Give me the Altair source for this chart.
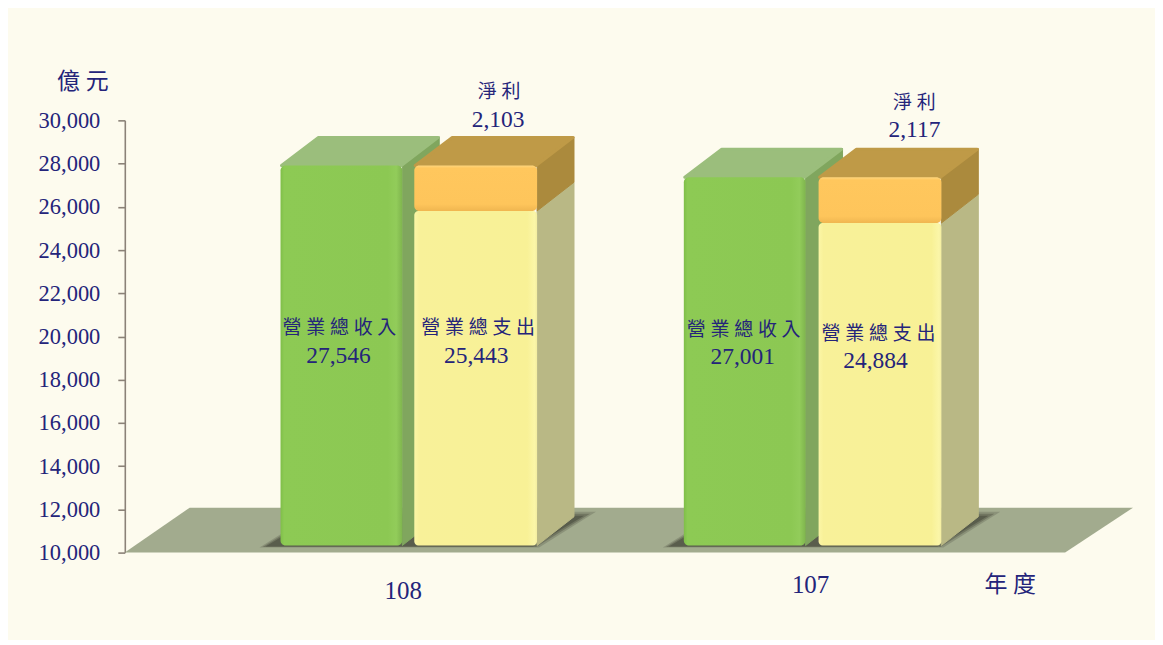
import altair as alt

# ---- values
years = ["108", "107"]
revenue = [27546, 27001]
expense = [25443, 24884]
profit = [2103, 2117]
y_ticks = [10000, 12000, 14000, 16000, 18000, 20000, 22000, 24000, 26000, 28000, 30000]

# ---- layout (x axis is in layout units, y axis in 億元)
W, H = 1010, 433
BASE = 10000
LIFT_BASE = 330       # foot of the bars sits a little above the floor edge
LIFT = 365            # front plane of the bars
DX, DY = 37, 1330     # depth of the 3D boxes
GROUP_LEFT = [156, 560]
GREEN_W = 122
YELLOW_OFF = [134, 135]
YELLOW_W = 123

NAVY = "#24247a"
SERIF = "Liberation Serif"
CJK = "Liberation Serif, Noto Sans CJK TC"

AX = alt.Axis(
    values=y_ticks, format=",.0f", grid=False, domainColor="#8b8278", domainWidth=1.6,
    tickColor="#8b8278", tickWidth=1.6, tickSize=7, labelPadding=18,
    labelFont=SERIF, labelFontSize=22.5, labelColor=NAVY,
)
xs = alt.Scale(domain=[0, W], range=[0, W])
ys = alt.Scale(domain=[10000, 30000], range=[H, 0])
X = alt.X("x:Q", scale=xs, axis=None, title=None)
Y = alt.Y("y:Q", scale=ys, axis=AX, title=None)


def grad(stops, vertical=False):
    return alt.Gradient(
        gradient="linear",
        x1=0, y1=0,
        x2=0 if vertical else 1, y2=1 if vertical else 0,
        stops=[alt.GradientStop(color=c, offset=o) for o, c in stops],
    )


def side(x0, lo, hi, color):
    vals = [
        {"x": x0, "y": hi, "y2": lo},
        {"x": x0 + DX, "y": hi + DY, "y2": lo + DY},
    ]
    return alt.Chart(alt.Data(values=vals)).mark_area(
        orient="vertical", color=color, stroke=color, strokeWidth=1, strokeJoin="round"
    ).encode(x=X, y=Y, y2="y2:Q")


def slab(xl, xr, y0, dx, dy, color, opacity=1.0, sw=0, dxr=None):
    vals = [
        {"y": y0, "x": xl, "x2": xr},
        {"y": y0 + dy, "x": xl + dx, "x2": xr + (dx if dxr is None else dxr)},
    ]
    kw = dict(stroke=color, strokeWidth=sw, strokeJoin="round") if sw else {}
    return alt.Chart(alt.Data(values=vals)).mark_area(
        orient="horizontal", color=color, opacity=opacity, **kw
    ).encode(x=X, x2="x2:Q", y=Y)


def front(xl, xr, lo, hi, fill, radius=5):
    vals = [{"x": xl, "x2": xr, "y": lo, "y2": hi}]
    return alt.Chart(alt.Data(values=vals)).mark_bar(
        color=fill, cornerRadius=radius
    ).encode(x=X, x2="x2:Q", y=Y, y2="y2:Q")


def texts(rows, size, font):
    return alt.Chart(alt.Data(values=rows)).mark_text(
        font=font, fontSize=size, color=NAVY, align="center", baseline="middle"
    ).encode(x=X, y=Y, text="t:N")


GREEN = grad([(0, "#7fbe49"), (0.03, "#8dca54"), (0.88, "#8cc853"), (0.95, "#92cc5a"), (1, "#7fb54e")])
YELLOW = grad([(0, "#fbf6a6"), (0.04, "#f8f199"), (0.92, "#f8f196"), (0.98, "#fbf6a8"), (1, "#f3eda0")])
ORANGE = grad([(0, "#ffd67c"), (0.06, "#ffc75d"), (0.85, "#fec55b"), (1, "#f0b650")], vertical=True)

layers = []

# floor
layers.append(slab(0, 942, BASE, 65, 2079, "#a2ab8e", dxr=68))

# soft shadows under the boxes
for i, left in enumerate(GROUP_LEFT):
    for inset, op in [(0, 0.22), (3, 0.32), (6, 0.42)]:
        layers.append(slab(left - 21 + inset, left + 259 - inset + YELLOW_OFF[i] - 134,
                           BASE + 231 + inset * 8, 57 - inset, 1663 - inset * 40,
                           "#3a3b30", opacity=op))

# the boxes
for i, left in enumerate(GROUP_LEFT):
    g0, g1 = left, left + GREEN_W
    y0, y1 = left + YELLOW_OFF[i], left + YELLOW_OFF[i] + YELLOW_W
    lo = BASE + LIFT_BASE
    rev = revenue[i] + LIFT
    exp = expense[i] + LIFT
    top = exp + profit[i]

    layers.append(side(g1, lo, rev, "#80a65e"))
    layers.append(slab(g0 + 1, g1 - 1, rev, DX, DY - 30, "#9bbe7c", sw=3))
    layers.append(front(g0, g1, lo, rev, GREEN))

    layers.append(side(y1, lo, exp, "#b9b885"))
    layers.append(front(y0, y1, lo, exp, YELLOW, radius=4))
    layers.append(side(y1, exp, top, "#ab8a3d"))
    layers.append(slab(y0 + 1, y1 - 1, top, DX, DY - 30, "#bf9a47", sw=3))
    layers.append(front(y0, y1, exp, top, ORANGE, radius=5))

# labels inside and above the boxes
layers.append(texts([
    {"x": 215, "y": 20390, "t": "營 業 總 收 入"},
    {"x": 354, "y": 20390, "t": "營 業 總 支 出"},
    {"x": 620, "y": 20300, "t": "營 業 總 收 入"},
    {"x": 755, "y": 20120, "t": "營 業 總 支 出"},
    {"x": 375, "y": 31320, "t": "淨 利"},
    {"x": 791, "y": 30810, "t": "淨 利"},
], 19, CJK))
layers.append(texts([
    {"x": -42, "y": 31790, "t": "億 元"},
    {"x": 887, "y": 8500, "t": "年 度"},
], 23, CJK))
layers.append(texts([
    {"x": 214, "y": 19100, "t": f"{revenue[0]:,}"},
    {"x": 352, "y": 19100, "t": f"{expense[0]:,}"},
    {"x": 619, "y": 19030, "t": f"{revenue[1]:,}"},
    {"x": 752, "y": 18880, "t": f"{expense[1]:,}"},
    {"x": 374, "y": 30000, "t": f"{profit[0]:,}"},
    {"x": 791, "y": 29540, "t": f"{profit[1]:,}"},
], 23.5, SERIF))
layers.append(texts([
    {"x": 279, "y": 8200, "t": years[0]},
    {"x": 687, "y": 8520, "t": years[1]},
], 25, SERIF))

chart = alt.layer(*layers).properties(
    width=W,
    height=H,
    background="#fdfbee",
    autosize=alt.AutoSizeParams(type="none"),
    padding={"left": 117, "top": 112, "right": 22, "bottom": 87},
).configure_view(stroke=None)

chart.save("out.html", embed_options={"renderer": "svg", "actions": False})
